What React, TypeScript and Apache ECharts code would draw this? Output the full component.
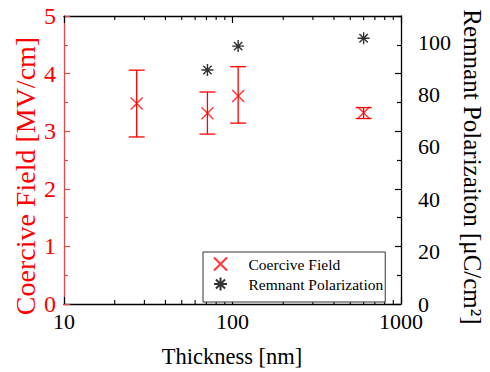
import React, { useEffect, useRef } from "react";
import * as echarts from "echarts";

// ---- data ----
const thickness = [27, 71, 108, 600];
const coerciveField = [3.48, 3.31, 3.61, 3.32];
const coerciveLow = [2.9, 2.95, 3.14, 3.22];
const coerciveHigh = [4.06, 3.68, 4.12, 3.41];

const remnantThickness = [71, 108, 600];
const remnantPolarization = [89.4, 98.5, 101.5];

const xMinorTickValues = [20, 30, 40, 50, 60, 70, 80, 90, 200, 300, 400, 500, 600, 700, 800, 900];

const FONT = "'Liberation Serif', 'Times New Roman', Times, serif";
const RED = "#ff0000";
const AXIS_RED = "#e04a4a";

const X_PATH = "path://M0,0L10,10M10,0L0,10";
const STAR_PATH = "path://M5,0L5,10M0,5L10,5M1.5,1.5L8.5,8.5M8.5,1.5L1.5,8.5";

export default function App() {
  const ref = useRef<HTMLDivElement>(null);

  useEffect(() => {
    if (!ref.current) return;
    const chart = echarts.init(ref.current, undefined, { renderer: "svg" });

    const errData = thickness.map((t, i) => [t, coerciveLow[i], coerciveHigh[i]]);
    const tickData = xMinorTickValues.map((v) => [v, 0]);

    const option: any = {
      animation: false,
      backgroundColor: "#ffffff",
      textStyle: { fontFamily: FONT },
      grid: { left: 64, right: 89, top: 16, bottom: 68, containLabel: false },
      xAxis: [
        {
          type: "log",
          logBase: 10,
          min: 10,
          max: 1000,
          position: "bottom",
          axisLine: { show: true, onZero: false, lineStyle: { color: "#000", width: 1.3 } },
          axisTick: { show: true, inside: true, length: 7, lineStyle: { color: "#000", width: 1.2 } },
          axisLabel: {
            fontFamily: FONT,
            fontSize: 22,
            color: "#000",
            margin: 6,
            formatter: (v: number) => String(Math.round(v)),
          },
          splitLine: { show: false },
        },
        {
          type: "log",
          logBase: 10,
          min: 10,
          max: 1000,
          position: "top",
          axisLine: { show: true, onZero: false, lineStyle: { color: "#000", width: 1.3 } },
          axisTick: { show: true, inside: true, length: 7, lineStyle: { color: "#000", width: 1.2 } },
          axisLabel: { show: false },
          splitLine: { show: false },
        },
      ],
      yAxis: [
        {
          type: "value",
          position: "left",
          min: 0,
          max: 5,
          interval: 1,
          axisLine: { show: true, onZero: false, lineStyle: { color: AXIS_RED, width: 1.3 } },
          axisTick: { show: true, inside: true, length: 6, lineStyle: { color: AXIS_RED, width: 1.2 } },
          minorTick: { show: true, splitNumber: 2, length: 4, lineStyle: { color: AXIS_RED, width: 1.2 } },
          axisLabel: { fontFamily: FONT, fontSize: 24, color: RED, margin: 8 },
          splitLine: { show: false },
        },
        {
          type: "value",
          position: "right",
          min: 0,
          max: 110,
          interval: 20,
          axisLine: { show: false },
          axisTick: { show: false },
          axisLabel: { fontFamily: FONT, fontSize: 22, color: "#000", margin: 17, showMaxLabel: false },
          splitLine: { show: false },
        },
        {
          type: "value",
          position: "right",
          min: 0,
          max: 5,
          interval: 1,
          axisLine: { show: true, onZero: false, lineStyle: { color: "#000", width: 1.3 } },
          axisTick: { show: true, inside: true, length: 6, lineStyle: { color: "#000", width: 1.2 } },
          minorTick: { show: true, splitNumber: 2, length: 4, lineStyle: { color: "#000", width: 1.2 } },
          axisLabel: { show: false },
          splitLine: { show: false },
        },
      ],
      legend: {
        left: 203,
        top: 252,
        orient: "vertical",
        backgroundColor: "#fff",
        borderColor: "#333",
        borderWidth: 1,
        borderRadius: 0,
        padding: [4, 2, 10, 10],
        itemWidth: 20,
        itemHeight: 13,
        itemGap: 4,
        textStyle: { fontFamily: FONT, fontSize: 15.5, color: "#000", padding: [0, 0, 0, 13] },
        data: [
          { name: "Coercive Field", icon: X_PATH },
          { name: "Remnant Polarization", icon: STAR_PATH },
        ],
      },
      series: [
        {
          type: "custom",
          name: "xMinorTicks",
          xAxisIndex: 0,
          yAxisIndex: 0,
          silent: true,
          data: tickData,
          renderItem: (params: any, api: any) => {
            const v = api.value(0);
            const b = api.coord([v, 0]);
            const t = api.coord([v, 5]);
            const st = { stroke: "#000", lineWidth: 1.1 };
            return {
              type: "group",
              children: [
                { type: "line", shape: { x1: b[0], y1: b[1], x2: b[0], y2: b[1] - 4 }, style: st },
                { type: "line", shape: { x1: t[0], y1: t[1], x2: t[0], y2: t[1] + 4 }, style: st },
              ],
            };
          },
          z: 1,
        },
        {
          type: "custom",
          name: "errorBars",
          xAxisIndex: 0,
          yAxisIndex: 0,
          silent: true,
          data: errData,
          renderItem: (params: any, api: any) => {
            const x = api.value(0);
            const lo = api.coord([x, api.value(1)]);
            const hi = api.coord([x, api.value(2)]);
            const hw = 8;
            const st = { stroke: RED, lineWidth: 1.3 };
            return {
              type: "group",
              children: [
                { type: "line", shape: { x1: lo[0], y1: lo[1], x2: hi[0], y2: hi[1] }, style: st },
                { type: "line", shape: { x1: lo[0] - hw, y1: lo[1], x2: lo[0] + hw, y2: lo[1] }, style: st },
                { type: "line", shape: { x1: hi[0] - hw, y1: hi[1], x2: hi[0] + hw, y2: hi[1] }, style: st },
              ],
            };
          },
          z: 2,
        },
        {
          type: "scatter",
          name: "Coercive Field",
          xAxisIndex: 0,
          yAxisIndex: 0,
          symbol: X_PATH,
          symbolSize: 12,
          itemStyle: { color: "transparent", borderColor: RED, borderWidth: 1.4 },
          data: thickness.map((t, i) => [t, coerciveField[i]]),
          z: 3,
        },
        {
          type: "scatter",
          name: "Remnant Polarization",
          xAxisIndex: 0,
          yAxisIndex: 1,
          symbol: STAR_PATH,
          symbolSize: 12,
          itemStyle: { color: "transparent", borderColor: "#000", borderWidth: 1.4 },
          data: remnantThickness.map((t, i) => [t, remnantPolarization[i]]),
          z: 3,
        },
      ],
      graphic: [
        {
          type: "text",
          x: 25,
          y: 176,
          rotation: Math.PI / 2,
          style: {
            text: "Coercive Field [MV/cm]",
            fontFamily: FONT,
            fontSize: 28,
            fill: RED,
            align: "center",
            verticalAlign: "middle",
          },
        },
        {
          type: "text",
          x: 472,
          y: 167,
          rotation: -Math.PI / 2,
          style: {
            text: "Remnant Polarizaiton [μC/cm²]",
            fontFamily: FONT,
            fontSize: 25,
            fill: "#000",
            align: "center",
            verticalAlign: "middle",
          },
        },
        {
          type: "text",
          x: 232,
          y: 356,
          style: {
            text: "Thickness [nm]",
            fontFamily: FONT,
            fontSize: 22.5,
            fill: "#000",
            align: "center",
            verticalAlign: "middle",
          },
        },
      ],
    };

    chart.setOption(option);
    return () => chart.dispose();
  }, []);

  return (
    <div
      ref={ref}
      style={{ position: "fixed", left: 0, top: 0, width: 490, height: 372, background: "#fff" }}
    />
  );
}
